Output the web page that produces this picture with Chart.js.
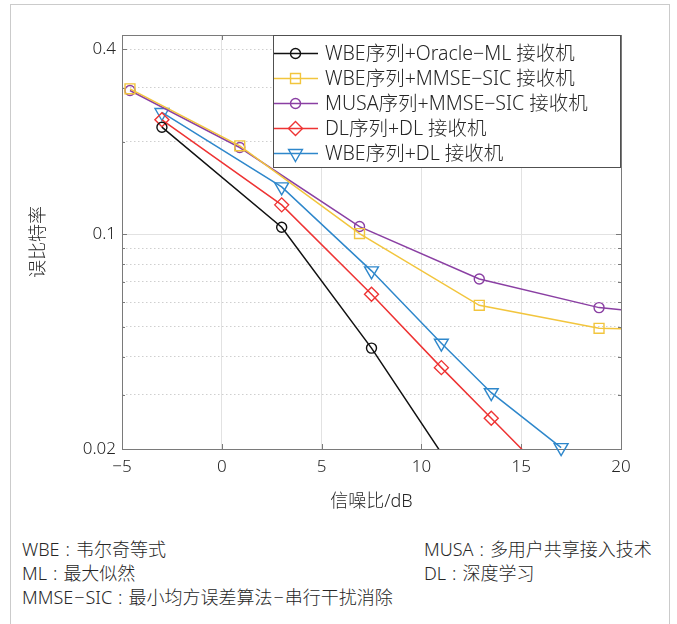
<!DOCTYPE html>
<html><head><meta charset="utf-8">
<script src="https://cdn.jsdelivr.net/npm/chart.js@4.4.1/dist/chart.umd.min.js"></script>
<style>
html,body{margin:0;padding:0;background:#fff;}
#frame{position:absolute;left:10px;top:4px;width:660px;height:640px;border:1px solid #cbcbcb;box-sizing:border-box;}
#wrap{position:absolute;left:0;top:0;width:677px;height:520px;}
.note{position:absolute;font-family:"Noto Sans","Noto Sans CJK SC",sans-serif;font-size:18px;line-height:24px;color:#262626;white-space:nowrap;font-weight:300;}
.note .c{display:inline-block;padding:0 6px;}
.note .d{display:inline-block;padding:0 1px;}
</style></head><body>
<div id="frame"></div>
<div id="wrap"><canvas id="c" width="677" height="520"></canvas></div>
<div class="note" style="left:22px;top:537px">WBE<span class="c">:</span>韦尔奇等式<br>ML<span class="c">:</span>最大似然<br>MMSE<span class="d">−</span>SIC<span class="c">:</span>最小均方误差算法<span class="d">−</span>串行干扰消除</div>
<div class="note" style="left:424px;top:537px">MUSA<span class="c">:</span>多用户共享接入技术<br>DL<span class="c">:</span>深度学习</div>
<script>
// ---- data ----
const seriesNames = ['WBE序列+Oracle−ML 接收机','WBE序列+MMSE−SIC 接收机','MUSA序列+MMSE−SIC 接收机','DL序列+DL 接收机','WBE序列+DL 接收机'];
const snrA = [-3, 3, 7.5, 11, 13.5, 17];
const snrB = [-4.6, 0.9, 6.9, 12.9, 18.9, 24.9];
const berOracleML = [0.223, 0.1054, 0.0426, 0.0194];
const berWbeMmse  = [0.2973, 0.194, 0.1005, 0.0587, 0.0494, 0.0487];
const berMusaMmse = [0.2936, 0.1915, 0.1059, 0.0715, 0.0577, 0.0531];
const berDlDl     = [0.2357, 0.1246, 0.0638, 0.0368, 0.0252, 0.0148];
const berWbeDl    = [0.249, 0.1426, 0.076, 0.0442, 0.0305, 0.0202];
const xTicks = [-5, 0, 5, 10, 15, 20];
const yTicks = [0.02, 0.03, 0.04, 0.05, 0.06, 0.07, 0.08, 0.09, 0.1, 0.2, 0.3, 0.4];
const yLabeled = [0.02, 0.1, 0.4];
const xTitle = '信噪比/dB';
const yTitle = '误比特率';
const xMin = -5, xMax = 20, yMin = 0.02, yMax = 0.445;

function pts(xs, ys){ return ys.map((y,i)=>({x:xs[i], y:y})); }
const TXT = '#262626';
const FONT = '"Noto Sans","Noto Sans CJK SC",sans-serif';

function ds(label, xs, ys, color, style, r, rot){
  return {label, data: pts(xs, ys), borderColor: color, backgroundColor: color,
    borderWidth: 1.5, pointStyle: style, pointRotation: rot||0,
    pointRadius: c => (c.raw && (c.raw.y < yMin || c.raw.x > xMax)) ? 0 : r,
    pointHoverRadius: r, pointBorderWidth: 1.4, pointBorderColor: color,
    pointBackgroundColor: 'rgba(0,0,0,0)', tension: 0, fill: false};
}
const datasets = [
  ds(seriesNames[0], snrA, berOracleML, '#111111', 'circle', 5),
  ds(seriesNames[1], snrB, berWbeMmse, '#F2C53D', 'rect', 7),
  ds(seriesNames[2], snrB, berMusaMmse, '#8A3FA3', 'circle', 5),
  ds(seriesNames[3], snrA, berDlDl, '#EE3333', 'rectRot', 7),
  ds(seriesNames[4], snrA, berWbeDl, '#2E87CB', 'triangle', 8, 180)
];
datasets[4].clip = {left:0, top:0, right:0, bottom:12};

function drawMarker(ctx, style, x, y, r, color){
  ctx.save(); ctx.strokeStyle = color; ctx.lineWidth = 1.4; ctx.beginPath();
  if (style === 'circle') ctx.arc(x, y, r, 0, Math.PI*2);
  else if (style === 'rect'){ const s = r*Math.SQRT1_2; ctx.rect(x-s, y-s, 2*s, 2*s); }
  else if (style === 'rectRot'){ ctx.moveTo(x, y-r); ctx.lineTo(x+r, y); ctx.lineTo(x, y+r); ctx.lineTo(x-r, y); ctx.closePath(); }
  else if (style === 'triangle'){ // pointing down
    const a = Math.PI/6; ctx.moveTo(x, y+r); ctx.lineTo(x+r*Math.cos(a), y-r*Math.sin(a)); ctx.lineTo(x-r*Math.cos(a), y-r*Math.sin(a)); ctx.closePath(); }
  ctx.stroke(); ctx.restore();
}

const framePlugin = {
  id: 'frame',
  beforeDatasetsDraw(chart){
    const {ctx, chartArea: a, scales} = chart;
    ctx.save();
    ctx.strokeStyle = '#7a7a7a'; ctx.lineWidth = 1;
    ctx.strokeRect(Math.round(a.left)+0.5, Math.round(a.top)+0.5, Math.round(a.right-a.left), Math.round(a.bottom-a.top));
    ctx.beginPath();
    xTicks.forEach(v => { const px = Math.round(scales.x.getPixelForValue(v))+0.5;
      ctx.moveTo(px, a.bottom); ctx.lineTo(px, a.bottom-5); ctx.moveTo(px, a.top); ctx.lineTo(px, a.top+5); });
    yTicks.forEach(v => { const py = Math.round(scales.y.getPixelForValue(v))+0.5; const len = yLabeled.includes(v) ? 5 : 3;
      ctx.moveTo(a.left, py); ctx.lineTo(a.left+len, py); ctx.moveTo(a.right, py); ctx.lineTo(a.right-len, py); });
    ctx.stroke();
    ctx.restore();
  }
};
const legendPlugin = {
  id: 'boxLegend',
  afterDraw(chart){
    const ctx = chart.ctx, a = chart.chartArea;
    const bx = 273, by = a.top, bw = a.right - 273, bh = 132;
    ctx.save();
    ctx.fillStyle = '#fff'; ctx.fillRect(bx, by, bw, bh);
    ctx.strokeStyle = '#505050'; ctx.lineWidth = 1;
    ctx.strokeRect(bx+0.5, Math.round(by)+0.5, bw-1, bh);
    chart.data.datasets.forEach((d, i) => {
      const y = by + 18.5 + i*25;
      ctx.strokeStyle = d.borderColor; ctx.lineWidth = 1.5;
      ctx.beginPath(); ctx.moveTo(bx+1, y); ctx.lineTo(bx+45, y); ctx.stroke();
      const r = d.pointStyle === 'circle' ? 5 : (d.pointStyle === 'triangle' ? 8 : 7);
      drawMarker(ctx, d.pointStyle, bx+22.5, y, r, d.borderColor);
      ctx.fillStyle = TXT; ctx.font = '300 19.5px ' + FONT; ctx.textBaseline = 'middle'; ctx.textAlign = 'left';
      ctx.fillText(d.label, bx+52, y+1);
    });
    ctx.restore();
  }
};

new Chart(document.getElementById('c'), {
  type: 'line',
  data: { datasets },
  plugins: [framePlugin, legendPlugin],
  options: {
    responsive: false, animation: false, devicePixelRatio: 1,
    layout: { padding: { left: 0, right: 56, top: 35, bottom: 0 } },
    plugins: { legend: { display: false }, tooltip: { enabled: false } },
    scales: {
      x: { type: 'linear', min: xMin, max: xMax,
        afterFit: s => { s.height = 71; },
        afterBuildTicks: s => { s.ticks = xTicks.map(v => ({value: v})); },
        ticks: { autoSkip: false, padding: 8, color: TXT, font: { family: FONT, size: 17, weight: 300 },
          callback: v => v < 0 ? '−' + Math.abs(v) : String(v) },
        grid: { drawTicks: false, color: c => (c.tick && (c.tick.value === xMin || c.tick.value === xMax)) ? 'rgba(0,0,0,0)' : '#e2e2e2', lineWidth: 1 },
        border: { display: false },
        title: { display: true, text: xTitle, color: TXT, font: { family: FONT, size: 18, weight: 300 }, padding: { top: 0, bottom: 7 } }
      },
      y: { type: 'logarithmic', min: yMin, max: yMax,
        afterFit: s => { s.width = 122; },
        afterBuildTicks: s => { s.ticks = yTicks.map(v => ({value: v, major: false})); },
        ticks: { autoSkip: false, padding: 6, color: TXT, font: { family: FONT, size: 17, weight: 300 },
          callback: v => yLabeled.includes(v) ? String(v) : '' },
        grid: { drawTicks: false, lineWidth: 1,
          color: c => { if (!c.tick) return '#e2e2e2'; const v = c.tick.value; if (v === yMin) return 'rgba(0,0,0,0)'; return v === 0.1 ? '#e2e2e2' : '#cfcfcf'; } },
        border: { display: false, dash: c => (c.tick && c.tick.value !== 0.1) ? [1.5, 2.5] : [] },
        title: { display: true, text: yTitle, color: TXT, font: { family: FONT, size: 18, weight: 300 }, padding: { top: 28, bottom: 0 } }
      }
    }
  }
});
</script>
</body></html>
